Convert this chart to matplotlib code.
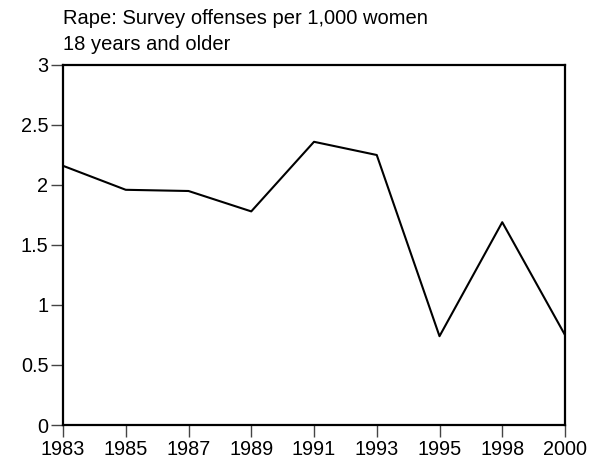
import matplotlib
matplotlib.use("Agg")
import matplotlib.pyplot as plt

years = ["1983", "1985", "1987", "1989", "1991", "1993", "1995", "1998", "2000"]
rates = [2.16, 1.96, 1.95, 1.78, 2.36, 2.25, 0.74, 1.69, 0.75]
yticks = [0, 0.5, 1, 1.5, 2, 2.5, 3]
ytick_labels = ["0", "0.5", "1", "1.5", "2", "2.5", "3"]
title = "Rape: Survey offenses per 1,000 women\n18 years and older"

plt.rcParams['font.family'] = ['Liberation Sans', 'DejaVu Sans']

fig = plt.figure(figsize=(6.0, 4.65), dpi=100)
ax = fig.add_axes([63/600, 1 - 425/465, (565-63)/600, (425-65)/465])
x = list(range(len(years)))
ax.plot(x, rates, color='black', linewidth=1.5)
ax.set_xlim(0, len(years) - 1)
ax.set_ylim(0, 3)
ax.set_xticks(x)
ax.set_xticklabels(years)
ax.set_yticks(yticks)
ax.set_yticklabels(ytick_labels)
ax.tick_params(axis='both', direction='out', length=8.5, width=1, labelsize=14.3, pad=2, color='#444444')
for s in ax.spines.values():
    s.set_linewidth(1.6)
fig.text(63/600, 1 - 9/465, title, ha='left', va='top', fontsize=14.5, linespacing=1.45)
fig.savefig("out.png", dpi=100)
